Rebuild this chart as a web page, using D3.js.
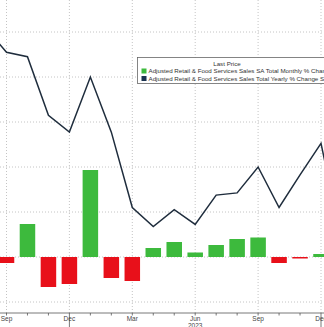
<!DOCTYPE html>
<html>
<head>
<meta charset="utf-8">
<script src="https://cdn.jsdelivr.net/npm/d3@7"></script>
<style>
  body { margin: 0; background: #fff; }
  svg { display: block; }
</style>
</head>
<body>
<script>
// Month positions: index 0 = Sep 2022 ... 15 = Dec 2023 (Aug 2022 = -1, Jan 2024 = 16)
const months = ['Sep','Oct','Nov','Dec','Jan','Feb','Mar','Apr','May','Jun','Jul','Aug','Sep','Oct','Nov','Dec'];
const tickLabels = [
    { i: 0, label: 'Sep' }, { i: 3, label: 'Dec' }, { i: 6, label: 'Mar' },
    { i: 9, label: 'Jun' }, { i: 12, label: 'Sep' }, { i: 15, label: 'Dec' }
];
const yearLabels = [{ i: 9, label: '2023' }];

// Monthly % change (bars), Sep 2022 - Dec 2023
const monthlyChange = [-0.2, 1.1, -1.0, -0.9, 2.9, -0.7, -0.8, 0.3, 0.5, 0.15, 0.4, 0.6, 0.65, -0.2, -0.05, 0.1];

// Yearly % change (line), Aug 2022 - Jan 2024
const yearlyIndex = [-1, 0, 1, 2, 3, 4, 5, 6, 7, 8, 9, 10, 11, 12, 13, 14, 15, 16];
const yearlyChange = [10.2, 9.1, 8.9, 6.3, 5.55, 8.0, 5.55, 2.2, 1.35, 2.1, 1.45, 2.75, 2.85, 4.0, 2.2, 3.65, 5.05, 0.6];

const legendItems = [
    { label: 'Adjusted Retail & Food Services Sales SA Total Monthly % Change', color: '#3dba3d' },
    { label: 'Adjusted Retail & Food Services Sales Total Yearly % Change SA', color: '#1b3350' }
];

const width = 324;
const height = 327;
const axisY = 313;

const svg = d3.select('body')
    .append('svg')
    .attr('width', width)
    .attr('height', height);

// Scales
const x = d3.scaleLinear().domain([0, 15]).range([6.5, 321]);
const yLine = d3.scaleLinear().domain([-2, 10]).range([302, 32]);
const yBar = d3.scaleLinear().domain([-1.5, 7.5]).range([302, 32]);

const step = x(1) - x(0);
const barW = step * 0.74;

// Grid lines
const grid = svg.append('g')
    .attr('stroke', '#bdbdbd')
    .attr('stroke-width', 0.9)
    .attr('stroke-dasharray', '1,2');

grid.selectAll('line.h')
    .data(d3.range(-2, 11, 2))
    .enter()
    .append('line')
    .attr('x1', 0)
    .attr('x2', width)
    .attr('y1', d => yLine(d))
    .attr('y2', d => yLine(d));

grid.selectAll('line.v')
    .data(tickLabels)
    .enter()
    .append('line')
    .attr('x1', d => x(d.i))
    .attr('x2', d => x(d.i))
    .attr('y1', 0)
    .attr('y2', axisY);

// Bars
svg.append('g')
    .selectAll('rect')
    .data(monthlyChange)
    .enter()
    .append('rect')
    .attr('x', (d, i) => x(i) - barW / 2)
    .attr('width', barW)
    .attr('y', d => yBar(Math.max(0, d)))
    .attr('height', d => Math.max(0.8, Math.abs(yBar(d) - yBar(0))))
    .attr('fill', d => d >= 0 ? '#3dba3d' : '#e8101a');

// Line
const line = d3.line()
    .x(d => x(d[0]))
    .y(d => yLine(d[1]));

svg.append('path')
    .datum(yearlyIndex.map((d, i) => [d, yearlyChange[i]]))
    .attr('fill', 'none')
    .attr('stroke', '#1f2d3d')
    .attr('stroke-width', 1.5)
    .attr('stroke-linejoin', 'miter')
    .attr('d', line);

// X axis
const axis = svg.append('g').attr('transform', `translate(0, ${axisY})`);
axis.append('line')
    .attr('x1', 0).attr('x2', width)
    .attr('stroke', '#555').attr('stroke-width', 0.8);

axis.selectAll('line.tick')
    .data(months)
    .enter()
    .append('line')
    .attr('x1', (d, i) => x(i))
    .attr('x2', (d, i) => x(i))
    .attr('y1', 0)
    .attr('y2', (d, i) => d === 'Dec' ? 14 : 2.5)
    .attr('stroke', '#555')
    .attr('stroke-width', 0.8);

axis.selectAll('text.lbl')
    .data(tickLabels)
    .enter()
    .append('text')
    .attr('x', d => x(d.i))
    .attr('y', 8)
    .attr('text-anchor', 'middle')
    .style('font-family', 'Liberation Sans, Arial, sans-serif')
    .style('font-size', '6.5px')
    .attr('fill', '#444')
    .text(d => d.label);

axis.selectAll('text.yr')
    .data(yearLabels)
    .enter()
    .append('text')
    .attr('x', d => x(d.i))
    .attr('y', 14.5)
    .attr('text-anchor', 'middle')
    .style('font-family', 'Liberation Sans, Arial, sans-serif')
    .style('font-size', '6.5px')
    .attr('fill', '#444')
    .text(d => d.label);

// Legend
const legend = svg.append('g');
legend.append('rect')
    .attr('x', 137.5)
    .attr('y', 57.5)
    .attr('width', 200)
    .attr('height', 26)
    .attr('fill', '#fff')
    .attr('stroke', '#666')
    .attr('stroke-width', 0.8);

legend.append('text')
    .attr('x', 227)
    .attr('y', 66)
    .attr('text-anchor', 'middle')
    .style('font-family', 'Liberation Sans, Arial, sans-serif')
    .style('font-size', '6.2px')
    .attr('fill', '#333')
    .text('Last Price');

legend.selectAll('rect.sw')
    .data(legendItems)
    .enter()
    .append('rect')
    .attr('x', 141.5)
    .attr('y', (d, i) => 68.5 + i * 7.5)
    .attr('width', 5)
    .attr('height', 5)
    .attr('fill', d => d.color);

legend.selectAll('text.it')
    .data(legendItems)
    .enter()
    .append('text')
    .attr('x', 148.5)
    .attr('y', (d, i) => 73.2 + i * 7.5)
    .style('font-family', 'Liberation Sans, Arial, sans-serif')
    .style('font-size', '6.2px')
    .attr('fill', '#333')
    .text(d => d.label);
</script>
</body>
</html>
